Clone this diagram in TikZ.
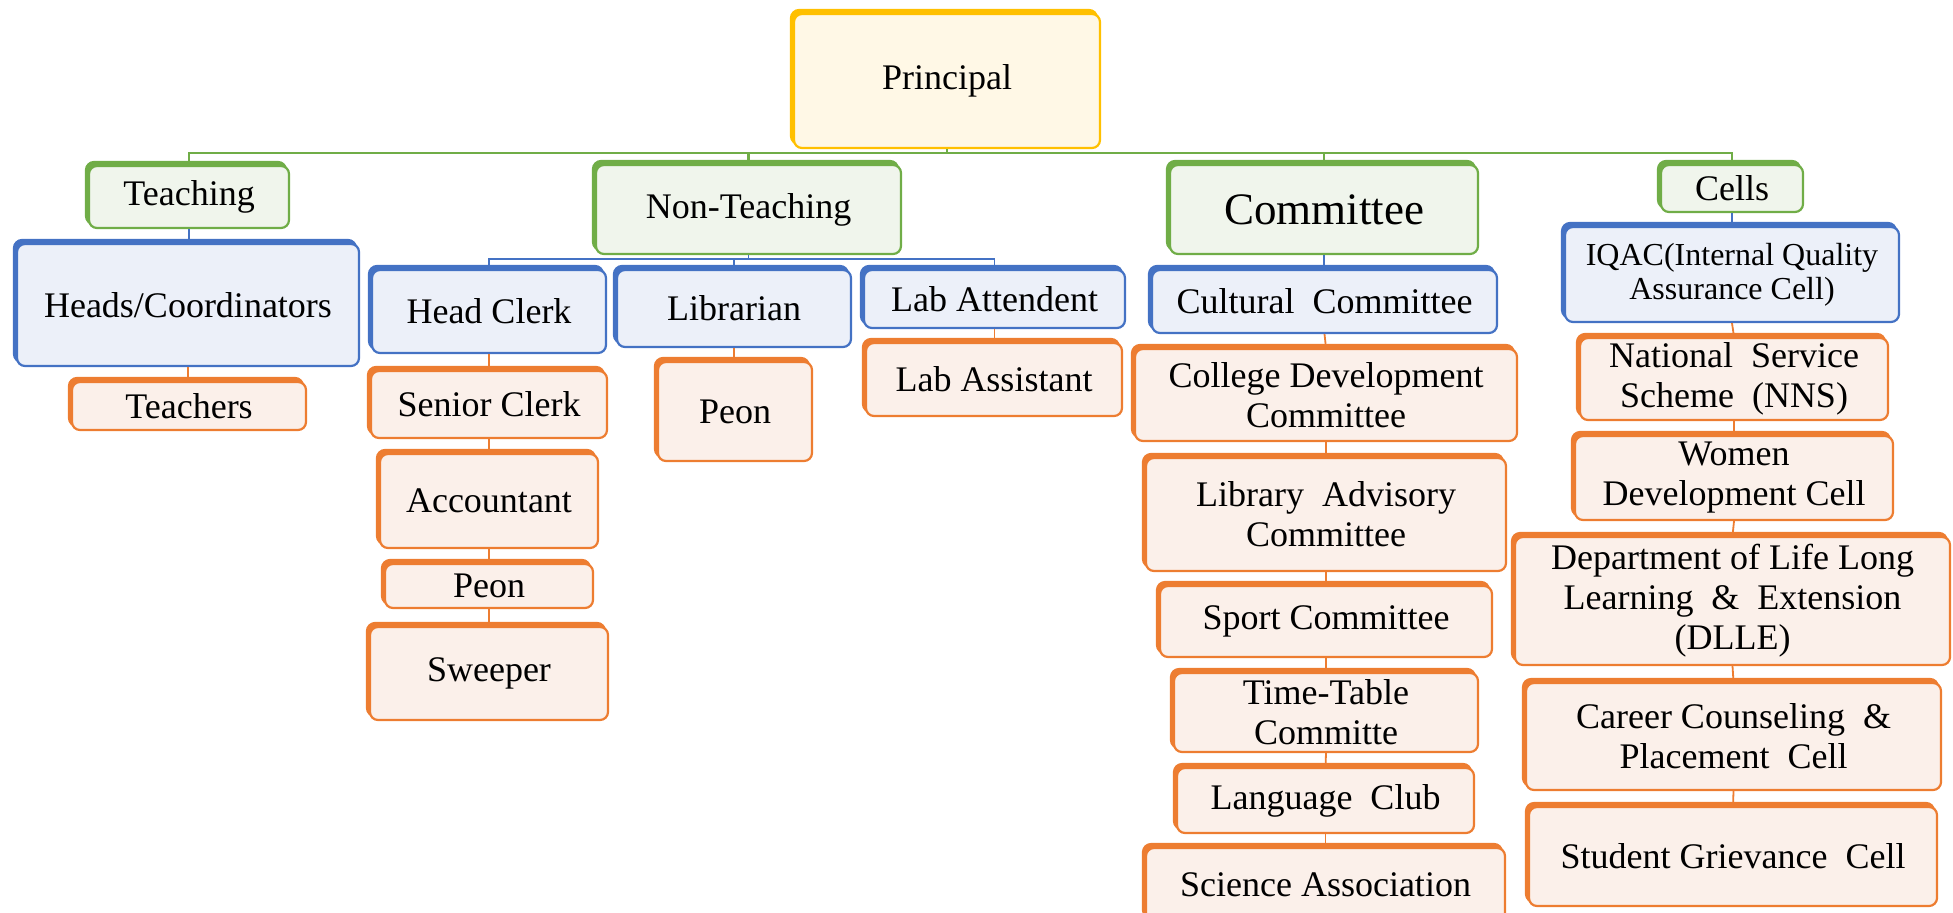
\documentclass[tikz,border=0pt]{standalone}
\usepackage{fontspec}
\setmainfont{Liberation Serif}
\usetikzlibrary{shadows}
\definecolor{cgold}{HTML}{FFC000}
\definecolor{fgold}{HTML}{FFF8E6}
\definecolor{cgreen}{HTML}{70AD47}
\definecolor{fgreen}{HTML}{F0F5EC}
\definecolor{cblue}{HTML}{4472C4}
\definecolor{fblue}{HTML}{ECF0F9}
\definecolor{corange}{HTML}{ED7D31}
\definecolor{forange}{HTML}{FBF0EA}
\tikzset{
  basebox/.style={rounded corners=4pt, line width=1.1pt, inner sep=0pt, align=center,
    font=\fontsize{18}{20}\selectfont},
  ybox/.style={basebox, draw=cgold, fill=fgold,
    general shadow={fill=cgold, draw=cgold, shadow xshift=-1.5pt, shadow yshift=2pt}},
  gbox/.style={basebox, draw=cgreen, fill=fgreen,
    general shadow={fill=cgreen, draw=cgreen, shadow xshift=-1.5pt, shadow yshift=2pt}},
  bbox/.style={basebox, draw=cblue, fill=fblue,
    general shadow={fill=cblue, draw=cblue, shadow xshift=-1.5pt, shadow yshift=2pt}},
  obox/.style={basebox, draw=corange, fill=forange,
    general shadow={fill=corange, draw=corange, shadow xshift=-1.5pt, shadow yshift=2pt}},
  gline/.style={draw=cgreen, line width=1.4pt},
  bline/.style={draw=cblue, line width=0.9pt},
  oline/.style={draw=corange, line width=0.9pt},
}
% \bx{style}{name}{x1}{y1}{x2}{y2}{text}  (pixel coordinates)
\newcommand{\bx}[7]{\node[#1, minimum width={(#5-#3)*0.5pt}, minimum height={(#6-#4)*0.5pt}]
  (#2) at ({(#3+#5)/2},{(#4+#6)/2}) {#7};}
\begin{document}
\begin{tikzpicture}[x=0.5pt,y=-0.5pt]
\useasboundingbox (0,0) rectangle (1953,912);
\clip (0,0) rectangle (1953,912);

% top
\bx{ybox}{P}{794}{14}{1100}{148}{Principal}

% level 1
\bx{gbox}{T}{89}{166}{289}{228}{Teaching}
\bx{gbox}{NT}{596}{165}{901}{254}{Non-Teaching}
\bx{gbox, font=\fontsize{22.5}{24}\selectfont}{Cm}{1170}{165}{1478}{254}{Committee}
\bx{gbox}{Ce}{1661}{165}{1803}{212}{Cells}

% Teaching column
\bx{bbox}{H}{17}{244}{359}{366}{Heads/Coordinators}
\bx{obox}{Tc}{72}{382}{306}{430}{Teachers}

% Non-teaching
\bx{bbox}{HC}{372}{270}{606}{353}{Head Clerk}
\bx{bbox}{Lib}{617}{270}{851}{347}{Librarian}
\bx{bbox}{LA}{864}{270}{1125}{328}{Lab Attendent}
\bx{obox}{SC}{371}{371}{607}{438}{Senior Clerk}
\bx{obox}{Acc}{380}{454}{598}{548}{Accountant}
\bx{obox}{PeA}{385}{564}{593}{608}{Peon}
\bx{obox}{Sw}{370}{627}{608}{720}{Sweeper}
\bx{obox}{PeB}{658}{362}{812}{461}{Peon}
\bx{obox}{LAs}{866}{343}{1122}{416}{Lab Assistant}

% Committee column
\bx{bbox}{Cu}{1152}{270}{1497}{333}{Cultural\ \ Committee}
\bx{obox}{CD}{1135}{349}{1517}{441}{College Development\\Committee}
\bx{obox}{LAd}{1146}{458}{1506}{571}{Library\ \ Advisory\\Committee}
\bx{obox}{Sp}{1160}{586}{1492}{657}{Sport Committee}
\bx{obox}{TT}{1174}{673}{1478}{752}{Time-Table\\Committe}
\bx{obox}{Lg}{1177}{768}{1474}{833}{Language\ \ Club}
\bx{obox}{Sc}{1146}{848}{1505}{922}{Science Association}

% Cells column
\bx{bbox, font=\fontsize{16}{17}\selectfont}{IQ}{1565}{227}{1899}{322}{IQAC(Internal Quality\\Assurance Cell)}
\bx{obox}{NS}{1580}{338}{1888}{420}{National\ \ Service\\Scheme\ \ (NNS)}
\bx{obox}{W}{1575}{436}{1893}{520}{Women\\Development Cell}
\bx{obox}{DL}{1515}{537}{1950}{665}{Department of Life Long\\Learning\ \ \&\ \ Extension\\(DLLE)}
\bx{obox}{Ca}{1526}{683}{1941}{790}{Career Counseling\ \ \&\\Placement\ \ Cell}
\bx{obox}{SG}{1529}{807}{1937}{906}{Student Grievance\ \ Cell}

% main bus
\coordinate (bus) at (0,153);
\draw[gline] (P.south) -- (P.south |- bus);
\draw[gline] (T.north) -- (T.north |- bus) -- (Ce.north |- bus) -- (Ce.north);
\draw[gline] (NT.north) -- (NT.north |- bus);
\draw[gline] (Cm.north) -- (Cm.north |- bus);

% non-teaching bus
\coordinate (nbus) at (0,259);
\draw[bline] (NT.south) -- (NT.south |- nbus);
\draw[bline] (HC.north) -- (HC.north |- nbus) -- (LA.north |- nbus) -- (LA.north);
\draw[bline] (Lib.north) -- (Lib.north |- nbus);

% vertical connectors
\draw[bline] (T.south) -- (T.south |- H.north);
\draw[oline] (H.south) -- (H.south |- Tc.north);
\draw[oline] (HC.south) -- (HC.south |- SC.north);
\draw[oline] (SC.south) -- (SC.south |- Acc.north);
\draw[oline] (Acc.south) -- (Acc.south |- PeA.north);
\draw[oline] (PeA.south) -- (PeA.south |- Sw.north);
\draw[oline] (Lib.south) -- (Lib.south |- PeB.north);
\draw[oline] (LA.south) -- (LA.south |- LAs.north);

\draw[bline] (Cm.south) -- (Cm.south |- Cu.north);
\draw[oline] (Cu.south) -- (CD.north);
\draw[oline] (CD.south) -- (LAd.north);
\draw[oline] (LAd.south) -- (Sp.north);
\draw[oline] (Sp.south) -- (TT.north);
\draw[oline] (TT.south) -- (Lg.north);
\draw[oline] (Lg.south) -- (Sc.north);

\draw[bline] (Ce.south) -- (Ce.south |- IQ.north);
\draw[oline] (IQ.south) -- (NS.north);
\draw[oline] (NS.south) -- (W.north);
\draw[oline] (W.south) -- (DL.north);
\draw[oline] (DL.south) -- (Ca.north);
\draw[oline] (Ca.south) -- (SG.north);
\end{tikzpicture}
\end{document}
